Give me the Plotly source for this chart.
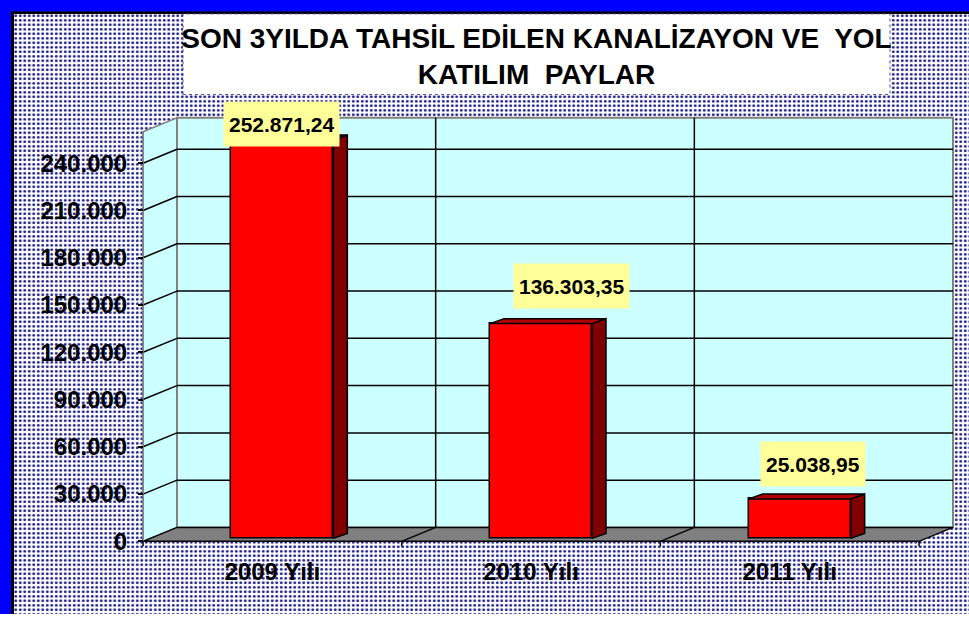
import plotly.graph_objects as go

# ---------------- data ----------------
categories = ["2009 Yılı", "2010 Yılı", "2011 Yılı"]
values = [252871.24, 136303.35, 25038.95]
y_ticks = [0, 30000, 60000, 90000, 120000, 150000, 180000, 210000, 240000]
title_lines = ["SON 3YILDA TAHSİL EDİLEN KANALİZAYON VE  YOL", "KATILIM  PAYLAR"]
wall_top_value = 260000

# ---------------- layout geometry (pixels) ----------------
W, H = 969, 617
def px(x): return x / W
def py(y): return 1 - y / H

FRONT_L, FRONT_R, ZERO_Y = 143, 919, 544
PX_PER_UNIT = (ZERO_Y - 164) / 240000.0
n = len(categories)
CW = (FRONT_R - FRONT_L) / n
DOM_L, DOM_R, DOM_B, DOM_T = 136, 964, 554, 100

x_range = [-0.5 - (FRONT_L - DOM_L) / CW, -0.5 + (DOM_R - FRONT_L) / CW]
y_range = [-(DOM_B - ZERO_Y) / PX_PER_UNIT, (ZERO_Y - DOM_T) / PX_PER_UNIT]

def dxu(p): return p / CW
def dyu(p): return p / PX_PER_UNIT

DX, DY = dxu(34), dyu(14)          # wall depth
FX, FY = dxu(10), dyu(3)           # bar front face offset
BDX, BDY = dxu(14), dyu(5)         # bar depth
BW = dxu(102)                      # bar width

LABEL_XSHIFT = [-1, 30, 13]
LABEL_YSHIFT = [-7, 15, 12]

WALL = "#CCFFFF"
GRID = "black"

fig = go.Figure()

# patterned chart-area background (decorative)
fig.add_trace(go.Bar(
    x=[0.5], y=[1], width=[1], base=0, xaxis="x", yaxis="y",
    marker=dict(color="white", line=dict(width=0),
                pattern=dict(shape=".", fgcolor="#1c1c8c", bgcolor="#ffffff",
                             size=4.5, solidity=0.33, fillmode="replace")),
    hoverinfo="skip", showlegend=False))

shapes = []
xr2 = dict(xref="x2", yref="y2", layer="below")
L0 = -0.5
R0 = n - 0.5
# side (left) wall
shapes.append(dict(type="path", **xr2,
    path=f"M{L0},0 L{L0+DX},{DY} L{L0+DX},{wall_top_value+DY} L{L0},{wall_top_value} Z",
    fillcolor=WALL, line=dict(color="#808080", width=1.5)))
# back wall
shapes.append(dict(type="rect", **xr2, x0=L0 + DX, x1=R0 + DX, y0=DY, y1=wall_top_value + DY,
                   fillcolor=WALL, line=dict(color="#808080", width=2)))
# back-wall horizontal gridlines & side-wall diagonals
for v in y_ticks[1:]:
    shapes.append(dict(type="line", **xr2, x0=L0 + DX, x1=R0 + DX, y0=v + DY, y1=v + DY,
                       line=dict(color=GRID, width=1.5)))
    shapes.append(dict(type="line", **xr2, x0=L0, x1=L0 + DX, y0=v, y1=v + DY,
                       line=dict(color=GRID, width=1.5)))
# back-wall vertical category dividers
for i in range(1, n):
    b = i - 0.5
    shapes.append(dict(type="line", **xr2, x0=b + DX, x1=b + DX, y0=DY, y1=wall_top_value + DY,
                       line=dict(color=GRID, width=1.5)))
# floor
shapes.append(dict(type="path", **xr2,
    path=f"M{L0},0 L{R0},0 L{R0+DX},{DY} L{L0+DX},{DY} Z",
    fillcolor="#808080", line=dict(color="black", width=1.5)))
for i in range(1, n):
    b = i - 0.5
    shapes.append(dict(type="line", **xr2, x0=b, x1=b + DX, y0=0, y1=DY,
                       line=dict(color="black", width=1.5)))
for i in range(0, n + 1):
    b = i - 0.5
    shapes.append(dict(type="line", **xr2, x0=b, x1=b, y0=0, y1=-dyu(5),
                       line=dict(color="black", width=1.5)))
# front left edge of side wall
shapes.append(dict(type="line", **xr2, x0=L0, x1=L0, y0=0, y1=wall_top_value,
                   line=dict(color="#808080", width=1.5)))

# frame & title box (paper)
shapes.append(dict(type="rect", xref="paper", yref="paper", layer="above",
                   x0=0, x1=1, y0=py(12), y1=1, fillcolor="#0000FF", line=dict(width=0)))
shapes.append(dict(type="rect", xref="paper", yref="paper", layer="above",
                   x0=0, x1=px(11), y0=0, y1=1, fillcolor="#0000FF", line=dict(width=0)))
shapes.append(dict(type="rect", xref="paper", yref="paper", layer="above",
                   x0=px(11), x1=1, y0=py(14), y1=py(11.5), fillcolor="black", line=dict(width=0)))
shapes.append(dict(type="rect", xref="paper", yref="paper", layer="above",
                   x0=px(11), x1=px(14), y0=0, y1=py(11.5), fillcolor="black", line=dict(width=0)))
shapes.append(dict(type="rect", xref="paper", yref="paper", layer="above",
                   x0=px(183), x1=px(890), y0=py(95), y1=py(14), fillcolor="white",
                   line=dict(color="#5050b0", width=1, dash="dot")))

# ---------------- bars ----------------
xs_front = [i + FX for i in range(n)]
fig.add_trace(go.Bar(
    x=xs_front, y=values, base=FY, width=BW, xaxis="x2", yaxis="y2",
    marker=dict(color="#FF0000", line=dict(color="black", width=1.5)),
    showlegend=False, hoverinfo="skip"))

for i, v in enumerate(values):
    xl = i + FX - BW / 2
    xr = i + FX + BW / 2
    fig.add_trace(go.Scatter(
        x=[xr, xr + BDX, xr + BDX, xr, xr],
        y=[FY, FY + BDY, FY + v + BDY, FY + v, FY],
        mode="lines", fill="toself", fillcolor="#800000",
        line=dict(color="black", width=1.5), xaxis="x2", yaxis="y2",
        showlegend=False, hoverinfo="skip"))
    fig.add_trace(go.Scatter(
        x=[xl, xr, xr + BDX, xl + BDX, xl],
        y=[FY + v, FY + v, FY + v + BDY, FY + v + BDY, FY + v],
        mode="lines", fill="toself", fillcolor="#B00000",
        line=dict(color="black", width=1.5), xaxis="x2", yaxis="y2",
        showlegend=False, hoverinfo="skip"))

def fmt(v):
    s = f"{v:,.2f}"
    return s.replace(",", "X").replace(".", ",").replace("X", ".")

annotations = []
for i, v in enumerate(values):
    annotations.append(dict(
        x=i + FX, y=FY + v, xref="x2", yref="y2", text=fmt(v), showarrow=False,
        xanchor="center", yanchor="bottom", xshift=LABEL_XSHIFT[i], yshift=LABEL_YSHIFT[i],
        font=dict(family="Liberation Sans, Arial", size=21, color="black", weight="bold"),
        bgcolor="#FFFF99", borderpad=5, height=34))

fig.update_layout(
    width=W, height=H, margin=dict(l=0, r=0, t=0, b=0),
    paper_bgcolor="white", plot_bgcolor="rgba(0,0,0,0)",
    separators=",.",
    showlegend=False, bargap=0,
    title=dict(text="<br>".join(title_lines), x=px(536.5), xanchor="center",
               y=py(48), yanchor="middle", yref="paper",
               font=dict(family="Liberation Sans Narrow, Arial Narrow, Liberation Sans",
                         size=28, color="black", weight="bold")),
    xaxis=dict(domain=[0, 1], range=[0, 1], visible=False, fixedrange=True),
    yaxis=dict(domain=[0, 1], range=[0, 1], visible=False, fixedrange=True),
    xaxis2=dict(domain=[px(DOM_L), px(DOM_R)], range=x_range, anchor="y2",
                showgrid=False, zeroline=False, showline=False, fixedrange=True,
                tickmode="array", tickvals=list(range(n)), ticktext=categories,
                ticks="", ticklabelstandoff=4,
                tickfont=dict(family="Liberation Sans, Arial", size=24, color="black", weight="bold")),
    yaxis2=dict(domain=[py(DOM_B), py(DOM_T)], range=y_range, anchor="free",
                position=px(FRONT_L), showgrid=False, zeroline=False, showline=False,
                fixedrange=True,
                tickmode="array", tickvals=y_ticks, tickformat=",.0f",
                ticks="outside", ticklen=5, tickcolor="black", tickwidth=1.5,
                ticklabelstandoff=6,
                tickfont=dict(family="Liberation Sans, Arial", size=24, color="black", weight="bold")),
    shapes=shapes, annotations=annotations,
)

fig.write_html("out.html", config={"displayModeBar": False},
               post_script="document.body.style.margin='0';")
